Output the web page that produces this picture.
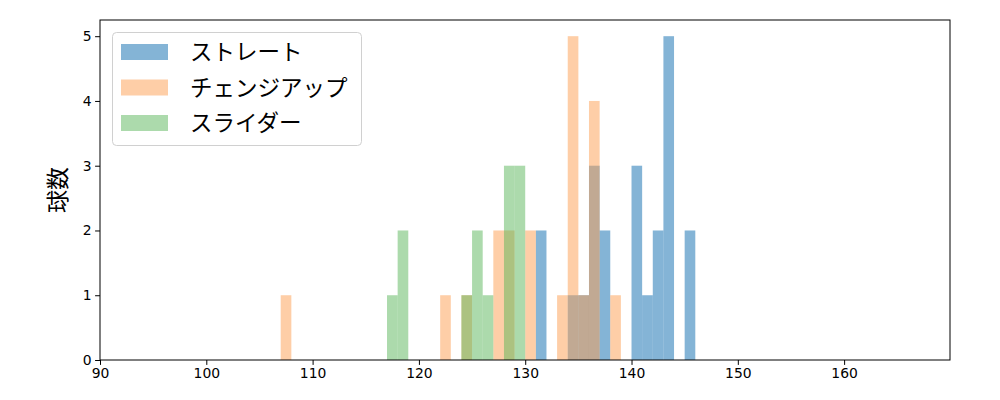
<!DOCTYPE html>
<html>
  <head>
    <style>
      body,
      html {
        margin: 0;
        padding: 0;
        background: #fff;
        overflow: hidden;
      }
      svg {
        display: block;
      }
    </style>
  </head>
  <body>
    <script src="https://cdn.jsdelivr.net/npm/d3@7"></script>
    <script>
      const width = 1000;
      const height = 400;
      const margin = { top: 20, right: 50, bottom: 40, left: 100 };

      // bin start (km/h, 1 km/h wide bins) and counts for each pitch type
      const seriesNames = ["ストレート", "チェンジアップ", "スライダー"];
      const seriesColors = ["#1f77b4", "#fd9d4f", "#59b559"];
      const seriesOpacity = [0.55, 0.5, 0.5];

      const straightBins = [131, 134, 135, 136, 137, 140, 141, 142, 143, 145];
      const straightCounts = [2, 1, 1, 3, 2, 3, 1, 2, 5, 2];

      const changeupBins = [107, 122, 124, 127, 128, 130, 133, 134, 135, 136, 138];
      const changeupCounts = [1, 1, 1, 2, 2, 2, 1, 5, 1, 4, 1];

      const sliderBins = [117, 118, 124, 125, 126, 128, 129];
      const sliderCounts = [1, 2, 1, 2, 1, 3, 3];

      const xTicks = [90, 100, 110, 120, 130, 140, 150, 160];
      const yTicks = [0, 1, 2, 3, 4, 5];

      const series = [
        { bins: straightBins, counts: straightCounts },
        { bins: changeupBins, counts: changeupCounts },
        { bins: sliderBins, counts: sliderCounts },
      ];

      const x = d3
        .scaleLinear()
        .domain([90, 169.96])
        .range([margin.left, width - margin.right]);
      const y = d3
        .scaleLinear()
        .domain([0, 5.25])
        .range([height - margin.bottom, margin.top]);

      const svg = d3
        .select("body")
        .append("svg")
        .attr("width", width)
        .attr("height", height);

      // bars
      series.forEach(function (s, i) {
        svg
          .append("g")
          .selectAll("rect")
          .data(s.bins.map((b, j) => ({ b: b, c: s.counts[j] })))
          .enter()
          .append("rect")
          .attr("x", (d) => x(d.b))
          .attr("width", (d) => x(d.b + 1) - x(d.b))
          .attr("y", (d) => y(d.c))
          .attr("height", (d) => y(0) - y(d.c))
          .attr("fill", seriesColors[i])
          .attr("fill-opacity", seriesOpacity[i]);
      });

      // axes
      const xAxis = svg
        .append("g")
        .attr("transform", `translate(0,${height - margin.bottom})`)
        .call(
          d3
            .axisBottom(x)
            .tickValues(xTicks)
            .tickSize(4.9)
            .tickPadding(3.5)
            .tickFormat(d3.format("d"))
        );
      const yAxis = svg
        .append("g")
        .attr("transform", `translate(${margin.left},0)`)
        .call(
          d3
            .axisLeft(y)
            .tickValues(yTicks)
            .tickSize(4.9)
            .tickPadding(3.5)
            .tickFormat(d3.format("d"))
        );
      [xAxis, yAxis].forEach(function (a) {
        a.select(".domain").remove();
        a.selectAll("line").attr("stroke", "#000").attr("stroke-width", 1);
        a.selectAll("text")
          .attr("fill", "#000")
          .style("font-family", "DejaVu Sans")
          .style("font-size", "13.9px");
      });

      // frame
      svg
        .append("rect")
        .attr("x", margin.left)
        .attr("y", margin.top)
        .attr("width", width - margin.left - margin.right)
        .attr("height", height - margin.top - margin.bottom)
        .attr("fill", "none")
        .attr("stroke", "#000")
        .attr("stroke-width", 1);

      // y label
      svg
        .append("text")
        .attr("transform", `translate(66,${(margin.top + height - margin.bottom) / 2}) rotate(-90)`)
        .attr("text-anchor", "middle")
        .style("font-family", "Noto Sans CJK JP")
        .style("font-size", "23px")
        .text("球数");

      // legend
      const legend = svg.append("g");
      legend
        .append("rect")
        .attr("x", 112.5)
        .attr("y", 32.5)
        .attr("width", 249)
        .attr("height", 113)
        .attr("rx", 4)
        .attr("fill", "#fff")
        .attr("fill-opacity", 0.8)
        .attr("stroke", "#d0d0d0")
        .attr("stroke-width", 1);
      seriesNames.forEach(function (name, i) {
        const cy = 52 + i * 35.5;
        legend
          .append("rect")
          .attr("x", 121)
          .attr("y", cy - 8)
          .attr("width", 47)
          .attr("height", 16)
          .attr("fill", seriesColors[i])
          .attr("fill-opacity", seriesOpacity[i]);
        legend
          .append("text")
          .attr("x", 190)
          .attr("y", cy)
          .attr("dy", "0.36em")
          .style("font-family", "Noto Sans CJK JP")
          .style("font-size", "22.5px")
          .text(name);
      });
    </script>
  </body>
</html>
